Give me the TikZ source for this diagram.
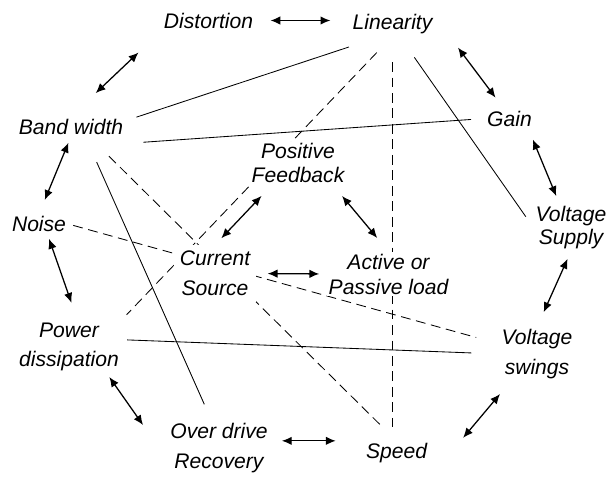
\documentclass[tikz,border=0pt]{standalone}
\usepackage{fontspec}
\setmainfont{Liberation Sans}
\usetikzlibrary{arrows.meta,calc,backgrounds}
\tikzset{
  lbl/.style={font=\fontsize{15}{21}\selectfont\itshape, fill=white, inner sep=1.4pt, align=center},
  lbltight/.style={lbl, font=\fontsize{15}{16.5}\selectfont\itshape},
  twoway/.style={{Latex[length=7pt,width=6pt]}-{Latex[length=7pt,width=6pt]}, line width=0.9pt},
  solidlink/.style={line width=0.6pt},
  dashlink/.style={line width=0.6pt, dash pattern=on 7pt off 4pt}
}
\begin{document}
\begin{tikzpicture}[x=0.025cm, y=-0.025cm]
  \useasboundingbox (0,0) rectangle (608,478);
  % outer ring
  \node[lbl] (dist) at (208.5,20.5) {Distortion};
  \node[lbl] (lin) at (392.5,24) {Linearity};
  \node[lbl] (gain) at (509.5,118.5) {Gain};
  \node[lbltight] (vsup) at (571,227.5) {Voltage\\Supply};
  \node[lbl] (vsw) at (537,354) {Voltage\\swings};
  \node[lbl] (speed) at (396.5,453) {Speed};
  \node[lbl] (odr) at (219,448) {Over drive\\Recovery};
  \node[lbl] (pow) at (69,347) {Power\\dissipation};
  \node[lbl] (noise) at (39,224) {Noise};
  \node[lbl] (bw) at (71,126.5) {Band width};
  % inner triangle
  \node[lbltight] (pfb) at (298,163) {Positive\\Feedback};
  \node[lbl, inner sep=4.3pt] (cs) at (215,273.5) {Current\\Source};
  \node[lbl, font=\fontsize{15}{17.8}\selectfont\itshape] (act) at (388.5,274) {Active or\\Passive load};

  % cross links
  \begin{scope}[on background layer]
    \draw[solidlink, shorten <=0.29cm, shorten >=0.87cm] (bw.6) -- (lin.-131);
    \draw[solidlink, shorten <=0.45cm, shorten >=0.35cm] ($(bw.south east)+(0,7)$) -- (gain.west);
    \draw[dashlink, shorten <=0.57cm, shorten >=0.2cm] (lin.south) -- (pow.north east);
    \draw[dashlink, shorten <=0.65cm, shorten >=0.35cm] (lin.south) -- (lin.south |- speed.north);
    \draw[solidlink, shorten <=0.65cm, shorten >=0.33cm] (lin.-60) -- (vsup.west);
    \draw[dashlink, shorten <=0.7cm, shorten >=0.59cm] (bw.-29) -- (speed.north);
    \draw[solidlink, shorten <=0.7cm, shorten >=0.46cm] (bw.-35) -- (odr.105);
    \draw[dashlink, shorten <=0.13cm, shorten >=0.6cm] (noise.east) -- (vsw.165);
    \draw[solidlink, shorten <=0.15cm, shorten >=0.7cm] (pow.8) -- (vsw.west);
  \end{scope}

  % two-way arrows round the ring
  \draw[twoway, shorten <=0.38cm, shorten >=0.5cm] (dist.east) -- (dist.east -| lin.west);
  \draw[twoway, shorten <=0.85cm, shorten >=0.8cm] (bw.north) -- (dist.south west);
  \draw[twoway, shorten <=0.17cm, shorten >=0.38cm] (bw.south) -- (noise.north);
  \draw[twoway, shorten <=0.13cm, shorten >=0.47cm] (noise.-50) -- (pow.72);
  \draw[twoway, shorten <=0.11cm, shorten >=1.09cm] (pow.-35) -- (odr.194);
  \draw[twoway, shorten <=0.3cm, shorten >=0.7cm] (odr.8) -- (odr.8 -| speed.west);
  \draw[twoway, shorten <=0.89cm, shorten >=0.43cm] ($(speed.south east)+(11,0)$) -- (vsw.226);
  \draw[twoway, shorten <=0.21cm, shorten >=0.41cm] (vsup.south) -- (vsw.north);
  \draw[twoway, shorten <=0.3cm, shorten >=0.21cm] (gain.-28) -- (vsup.116);
  \draw[twoway, shorten <=0.97cm, shorten >=0.34cm] (lin.10) -- (gain.120);
  % inner arrows
  \draw[twoway, shorten <=0.39cm, shorten >=0.23cm] (pfb.-140) -- (cs.north);
  \draw[twoway, shorten <=0.37cm, shorten >=0.44cm] (pfb.-32) -- (act.north);
  \draw[twoway, shorten <=0.28cm, shorten >=0.18cm] (cs.east) -- (act.west);
\end{tikzpicture}
\end{document}
